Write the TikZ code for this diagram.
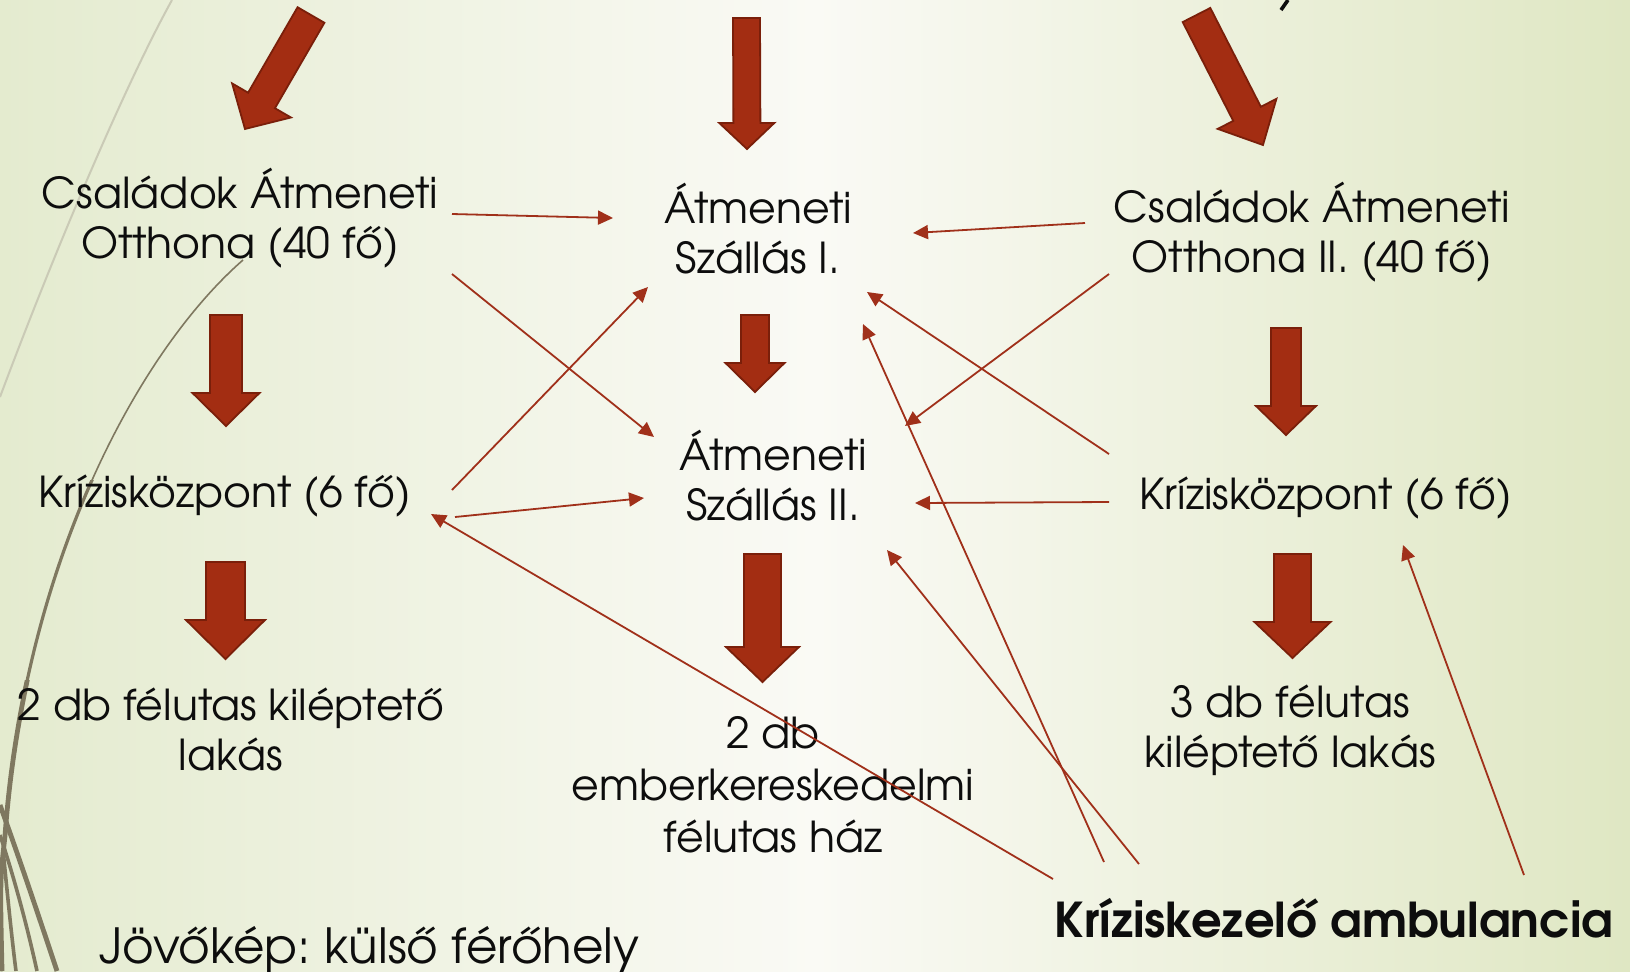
\documentclass[tikz,border=0pt]{standalone}
\usepackage{fontspec}
\setmainfont{texgyreadventor}[Extension=.otf, UprightFont=*-regular, BoldFont=*-bold, ItalicFont=*-italic, BoldItalicFont=*-bolditalic]
\usetikzlibrary{calc,arrows.meta}
\definecolor{arrfill}{HTML}{A32D12}
\definecolor{arrdraw}{HTML}{7A1F0A}
\definecolor{thinred}{HTML}{A0301A}
\definecolor{txt}{HTML}{0D0D0D}
\definecolor{bgside}{HTML}{E4EBCF}
\definecolor{bgright}{HTML}{DFE7C3}
\definecolor{bgmid}{HTML}{FAFAF5}
\definecolor{wispdark}{HTML}{7F7860}
\definecolor{wisplight}{HTML}{CACAB6}
\frenchspacing
\newcommand\blockarr[5]{%
  \path ($(#2)!#5!(#1)$) coordinate (neck);
  \draw[bigarr] ($(#1)!#3!90:(#2)$) -- ($(neck)!#3!90:(#2)$) -- ($(neck)!#4!90:(#2)$)
     -- (#2) -- ($(neck)!#4!-90:(#2)$) -- ($(neck)!#3!-90:(#2)$) -- ($(#1)!#3!-90:(#2)$) -- cycle;}
\begin{document}
\begin{tikzpicture}[x=0.5pt,y=-0.5pt,
  bigarr/.style={fill=arrfill, draw=arrdraw, line width=0.9pt, line join=miter},
  thin/.style={draw=thinred, line width=0.9pt, -{Triangle[length=7.5pt,width=7pt]}},
  lbl/.style={font=\fontsize{21.3pt}{25pt}\selectfont, align=center, inner sep=0pt, text=txt, anchor=base},
  wisp/.style={draw=wispdark}]
\useasboundingbox (0,0) rectangle (1630,971);
\shade[left color=bgside, right color=bgright, middle color=bgmid] (0,0) rectangle (1630,971);

% decorative wisps
\draw[draw=wisplight, line width=1pt] (172,0) .. controls (125,85) and (55,250) .. (0,397);
\draw[wisp, line width=0.8pt] (243,260) .. controls (140,350) and (25,560) .. (5,836) .. controls (0,880) .. (2,971);
\begin{scope}
\clip (0,480) rectangle (300,971);
\draw[wisp, line width=1.6pt] (243,260) .. controls (140,350) and (25,560) .. (5,836) .. controls (0,880) .. (2,971);
\end{scope}
\begin{scope}
\clip (0,680) rectangle (300,971);
\draw[wisp, line width=2.4pt] (243,260) .. controls (140,350) and (25,560) .. (5,836) .. controls (0,880) .. (2,971);
\end{scope}
\draw[wisp, line width=2.4pt] (0,805) .. controls (20,860) and (40,920) .. (57,971);
\draw[wisp, line width=1.8pt] (0,835) .. controls (15,880) and (28,930) .. (37,971);
\draw[wisp, line width=1.8pt] (3,850) .. controls (8,900) and (12,940) .. (16,971);

% fragment of text above the frame
\draw[txt, line width=1.8pt] (1288,0) -- (1281,10);

% text nodes (anchored at the baseline of the last line)
\node[lbl] (cso1) at (240,258) {Családok Átmeneti\\Otthona (40 fő)};
\node[lbl] (sz1) at (758,273) {Átmeneti\\Szállás I.};
\node[lbl] (cso2) at (1312,272) {Családok Átmeneti\\Otthona II. (40 fő)};
\node[lbl] (kk1) at (225,507) {Krízisközpont (6 fő)};
\node[lbl] (sz2) at (773,520) {Átmeneti\\Szállás II.};
\node[lbl] (kk2) at (1326,509) {Krízisközpont (6 fő)};
\node[lbl] (lak1) at (231,770) {2 db félutas kiléptető\\lakás};
\node[lbl, font=\fontsize{21.3pt}{26pt}\selectfont] (haz) at (773,852) {2 db\\emberkereskedelmi\\félutas ház};
\node[lbl] (lak3) at (1290,767) {3 db félutas\\kiléptető lakás};
\node[lbl, anchor=base west, font=\fontsize{24.2pt}{28pt}\selectfont] (jov) at (99,963) {Jövőkép: külső férőhely};
\node[lbl, anchor=base west, font=\fontsize{24pt}{28pt}\selectfont\bfseries] (amb) at (1054,937) {Kríziskezelő ambulancia};

% block arrows
\coordinate (a1s) at (311,15);   \coordinate (a1e) at (245,129);
\coordinate (a2s) at (746.5,18); \coordinate (a2e) at (747,149);
\coordinate (a3s) at (1196.5,15);\coordinate (a3e) at (1263,145);
\coordinate (a4s) at (755,315);  \coordinate (a4e) at (755,392);
\coordinate (a5s) at (762.5,554);\coordinate (a5e) at (762.5,682);
\coordinate (a6s) at (226,315);  \coordinate (a6e) at (226,426);
\coordinate (a7s) at (225.5,562);\coordinate (a7e) at (225.5,659);
\coordinate (a8s) at (1286,328); \coordinate (a8e) at (1286,435);
\coordinate (a9s) at (1292.5,554);\coordinate (a9e) at (1292.5,658);
\blockarr{a1s}{a1e}{7.75pt}{17pt}{16.5pt}
\blockarr{a2s}{a2e}{6.75pt}{13.75pt}{13pt}
\blockarr{a3s}{a3e}{7.75pt}{16.5pt}{17.5pt}
\blockarr{a4s}{a4e}{7pt}{14.75pt}{14.5pt}
\blockarr{a5s}{a5e}{9.25pt}{18.25pt}{17.5pt}
\blockarr{a6s}{a6e}{8pt}{16.75pt}{16.5pt}
\blockarr{a7s}{a7e}{9.75pt}{19.75pt}{19.5pt}
\blockarr{a8s}{a8e}{7.5pt}{15pt}{14.5pt}
\blockarr{a9s}{a9e}{9.25pt}{19pt}{18pt}

% thin connectors
\coordinate (t1s) at (452,214);  \coordinate (t1e) at (613,218);
\coordinate (t2s) at (452,274);  \coordinate (t2e) at (654,437);
\coordinate (t3s) at (452,490);  \coordinate (t3e) at (648,287);
\coordinate (t4s) at (455,517);  \coordinate (t4e) at (644,498);
\coordinate (t5s) at (1085,223); \coordinate (t5e) at (913,233);
\coordinate (t6s) at (1109,274); \coordinate (t6e) at (905,426);
\coordinate (t7s) at (1109,454); \coordinate (t7e) at (867,292);
\coordinate (t8s) at (1109,502); \coordinate (t8e) at (915,503);
\coordinate (t9s) at (1104,862); \coordinate (t9e) at (863,324);
\coordinate (t10s) at (1139,864);\coordinate (t10e) at (887,550);
\coordinate (t11s) at (1053,879);\coordinate (t11e) at (431,514);
\coordinate (t12s) at (1524,875);\coordinate (t12e) at (1403,545);
\foreach \i in {1,...,12} {\draw[thin] (t\i s) -- (t\i e);}
\end{tikzpicture}
\end{document}
